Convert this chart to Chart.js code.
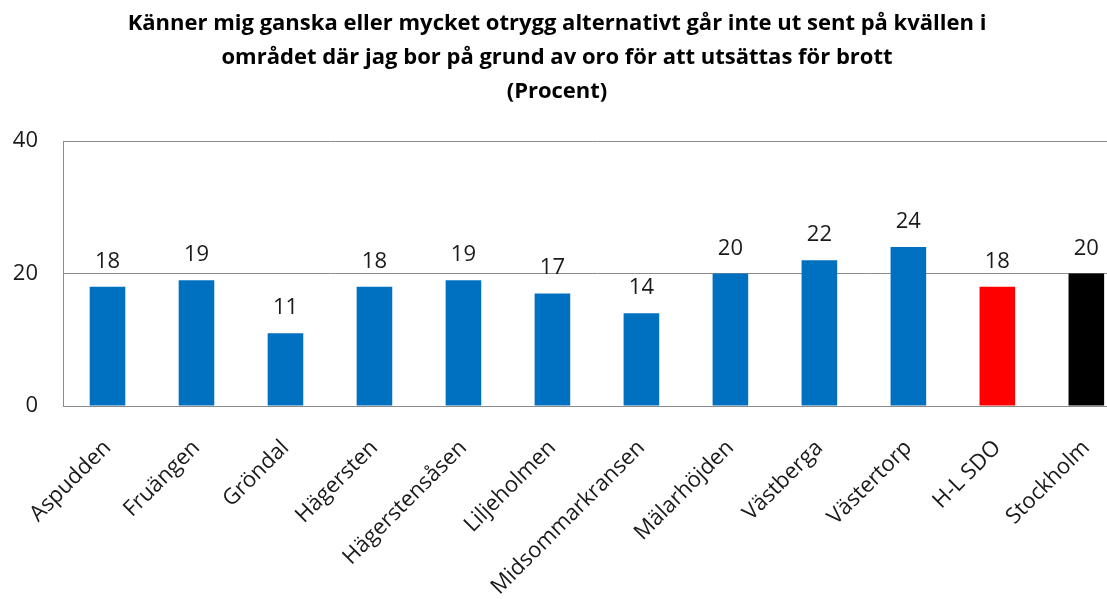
<!DOCTYPE html>
<html>
<head>
<meta charset="utf-8">
<script src="https://cdn.jsdelivr.net/npm/chart.js@4/dist/chart.umd.min.js"></script>
<style>
  html, body { margin: 0; padding: 0; background: #fff; overflow: hidden; }
  #wrap { position: relative; width: 1134px; height: 599px; }
</style>
</head>
<body>
<div id="wrap"><canvas id="c"></canvas></div>
<script>
const titleLines = [
  'Känner mig ganska eller mycket otrygg alternativt går inte ut sent på kvällen i',
  'området där jag bor på grund av oro för att utsättas för brott',
  '(Procent)'
];
const categories = ['Aspudden', 'Fruängen', 'Gröndal', 'Hägersten', 'Hägerstensåsen', 'Liljeholmen',
  'Midsommarkransen', 'Mälarhöjden', 'Västberga', 'Västertorp', 'H-L SDO', 'Stockholm'];
const values = [18, 19, 11, 18, 19, 17, 14, 20, 22, 24, 18, 20];
const yTicks = [0, 20, 40];

const BLUE = '#0070C0', RED = '#FF0000', BLACK = '#000000';
const barColors = categories.map((c, i) => i === categories.length - 1 ? BLACK : (i === categories.length - 2 ? RED : BLUE));
const FONT = '"Open Sans", Lato, sans-serif';

const titlePlugin = {
  id: 'customTitle',
  afterDraw(chart) {
    const ctx = chart.ctx;
    ctx.save();
    ctx.fillStyle = '#000';
    ctx.font = 'bold 22px ' + FONT;
    ctx.textAlign = 'center';
    ctx.textBaseline = 'alphabetic';
    const ys = [30, 64, 98];
    titleLines.forEach((t, i) => ctx.fillText(t, 557, ys[i]));
    ctx.restore();
  }
};

const labelPlugin = {
  id: 'barLabels',
  afterDatasetsDraw(chart) {
    const ctx = chart.ctx;
    const meta = chart.getDatasetMeta(0);
    ctx.save();
    ctx.fillStyle = '#1a1a1a';
    ctx.font = '22px ' + FONT;
    ctx.textAlign = 'center';
    ctx.textBaseline = 'alphabetic';
    meta.data.forEach((bar, i) => {
      ctx.fillText(String(values[i]), bar.x, bar.y - 19);
    });
    ctx.restore();
  }
};

new Chart(document.getElementById('c'), {
  type: 'bar',
  data: {
    labels: categories,
    datasets: [{
      data: values,
      backgroundColor: barColors,
      borderWidth: 0,
      categoryPercentage: 1.0,
      barPercentage: 0.4
    }]
  },
  options: {
    responsive: true,
    maintainAspectRatio: false,
    animation: false,
    layout: { padding: { top: 141, right: 0, bottom: 0, left: 0 } },
    plugins: { legend: { display: false }, title: { display: false }, tooltip: { enabled: false } },
    scales: {
      x: {
        grid: { display: false, drawTicks: false },
        border: { display: true, color: '#8c8c8c', width: 1 },
        ticks: {
          autoSkip: false, minRotation: 45, maxRotation: 45,
          color: '#1a1a1a', font: { family: FONT, size: 22 }, padding: 29
        },
        afterFit(scale) { scale.height = 193; }
      },
      y: {
        min: 0, max: 40,
        afterBuildTicks(scale) { scale.ticks = yTicks.map(v => ({ value: v })); },
        grid: { color: '#8c8c8c', lineWidth: 1, drawTicks: false },
        border: { display: true, color: '#8c8c8c', width: 1 },
        ticks: { color: '#1a1a1a', font: { family: FONT, size: 22 }, padding: 25 },
        afterFit(scale) { scale.width = 63; }
      }
    }
  },
  plugins: [titlePlugin, labelPlugin]
});
</script>
</body>
</html>
